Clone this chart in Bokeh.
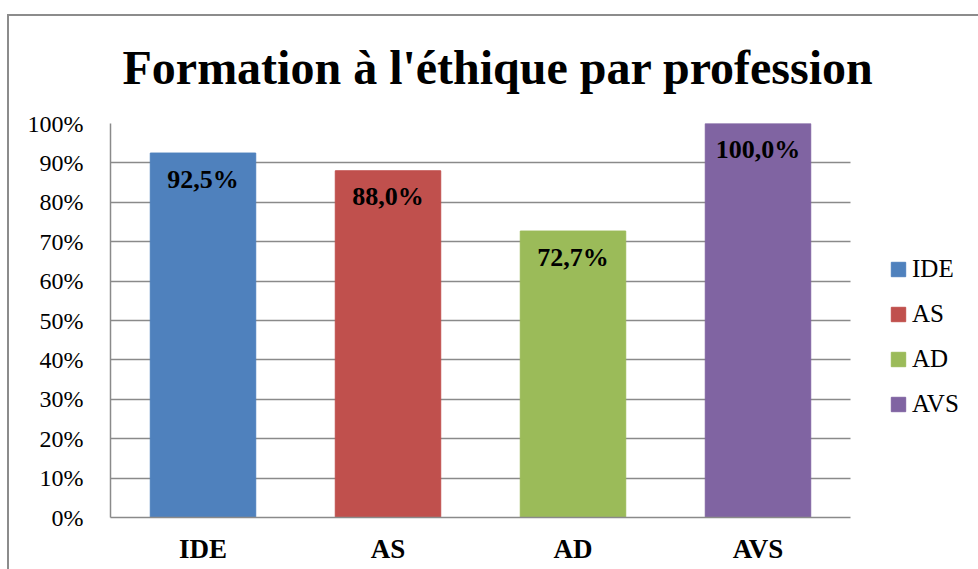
from bokeh.plotting import figure
from bokeh.models import (ColumnDataSource, Range1d, NumeralTickFormatter, Grid,
                          LabelSet, Title, Legend, LegendItem, FixedTicker, InlineStyleSheet)
from bokeh.embed import file_html
from bokeh.resources import INLINE

title = "Formation à l'éthique par profession"
categories = ["IDE", "AS", "AD", "AVS"]
values = [0.925, 0.880, 0.727, 1.000]
colors = ["#4F81BD", "#C0504D", "#9BBB59", "#8064A2"]
y_ticks = [0.0, 0.1, 0.2, 0.3, 0.4, 0.5, 0.6, 0.7, 0.8, 0.9, 1.0]

n = len(categories)
xpos = [i + 0.5 for i in range(n)]
labels = [("%.1f%%" % (v * 100)).replace(".", ",") for v in values]
src = ColumnDataSource(dict(x=xpos, cat=categories, val=values, color=colors, lab=labels))

FONT = "Liberation Serif"
GRID = "#8a8a8a"

W, H = 978, 569
LEFT, TOP, BOTTOM = 110, 123, 52
PLOT_RIGHT = 850                      # right end of the category area
unit = (PLOT_RIGHT - LEFT) / n        # pixels per category
x_end = (W - LEFT) / unit

p = figure(width=W, height=H, output_backend="svg", toolbar_location=None,
           x_range=Range1d(0, x_end), y_range=Range1d(0, 1),
           min_border_left=LEFT, min_border_right=0, min_border_top=TOP, min_border_bottom=BOTTOM)
p.outline_line_color = None
p.background_fill_color = "white"
p.border_fill_color = "white"

r = p.vbar(x="x", top="val", width=0.57, color="color", source=src)

# axes
p.yaxis.ticker = FixedTicker(ticks=y_ticks)
p.yaxis.formatter = NumeralTickFormatter(format="0%")
p.yaxis.major_tick_line_color = None
p.yaxis.minor_tick_line_color = None
p.yaxis.major_tick_out = 0
p.yaxis.major_tick_in = 0
p.yaxis.axis_line_color = GRID
p.yaxis.axis_line_width = 1.5
p.yaxis.major_label_standoff = 27
p.yaxis.major_label_text_font = FONT
p.yaxis.major_label_text_font_size = "24px"
p.yaxis.major_label_text_color = "black"

p.xaxis.ticker = FixedTicker(ticks=xpos)
p.xaxis.major_label_overrides = {x: c for x, c in zip(xpos, categories)}
p.xaxis.bounds = (0, n)
p.xaxis.major_tick_line_color = None
p.xaxis.minor_tick_line_color = None
p.xaxis.major_tick_out = 0
p.xaxis.major_tick_in = 0
p.xaxis.axis_line_color = GRID
p.xaxis.axis_line_width = 1.5
p.xaxis.major_label_standoff = 16
p.xaxis.major_label_text_font = FONT
p.xaxis.major_label_text_font_size = "27px"
p.xaxis.major_label_text_font_style = "bold"
p.xaxis.major_label_text_color = "black"

p.xgrid.grid_line_color = None
p.ygrid.grid_line_color = GRID
p.ygrid.grid_line_width = 1.5
if "cross_bounds" in Grid.properties():
    p.ygrid.cross_bounds = (0, n)

# data labels
ls = LabelSet(x="x", y="val", text="lab", source=src, y_offset=-26,
              text_align="center", text_baseline="middle",
              text_font=FONT, text_font_size="26px", text_font_style="bold", text_color="black")
p.add_layout(ls)

# title
t = Title(text=title, align="left", offset=12, standoff=59,
          text_font=FONT, text_font_size="48px", text_font_style="bold", text_color="black")
p.add_layout(t, "above")

# legend
legend = Legend(items=[LegendItem(label=c, renderers=[r], index=i) for i, c in enumerate(categories)],
                location=(779, 99))
legend.glyph_width = 18
legend.glyph_height = 18
legend.label_standoff = 5
legend.spacing = 17
legend.padding = 0
legend.margin = 0
legend.border_line_color = None
legend.background_fill_alpha = 0
legend.label_text_font = FONT
legend.label_text_font_size = "25px"
legend.label_text_color = "black"
p.add_layout(legend)

# outer chart border (left and top edges visible in the reference)
p.stylesheets = [InlineStyleSheet(css="""
:host::after {
  content: "";
  position: absolute;
  left: 7px; top: 14px; right: 0; bottom: 0;
  border-left: 2px solid #8c8c8c;
  border-top: 2px solid #8c8c8c;
  pointer-events: none;
  z-index: 10;
}
""")]

open("out.html", "w").write(file_html(p, INLINE))
